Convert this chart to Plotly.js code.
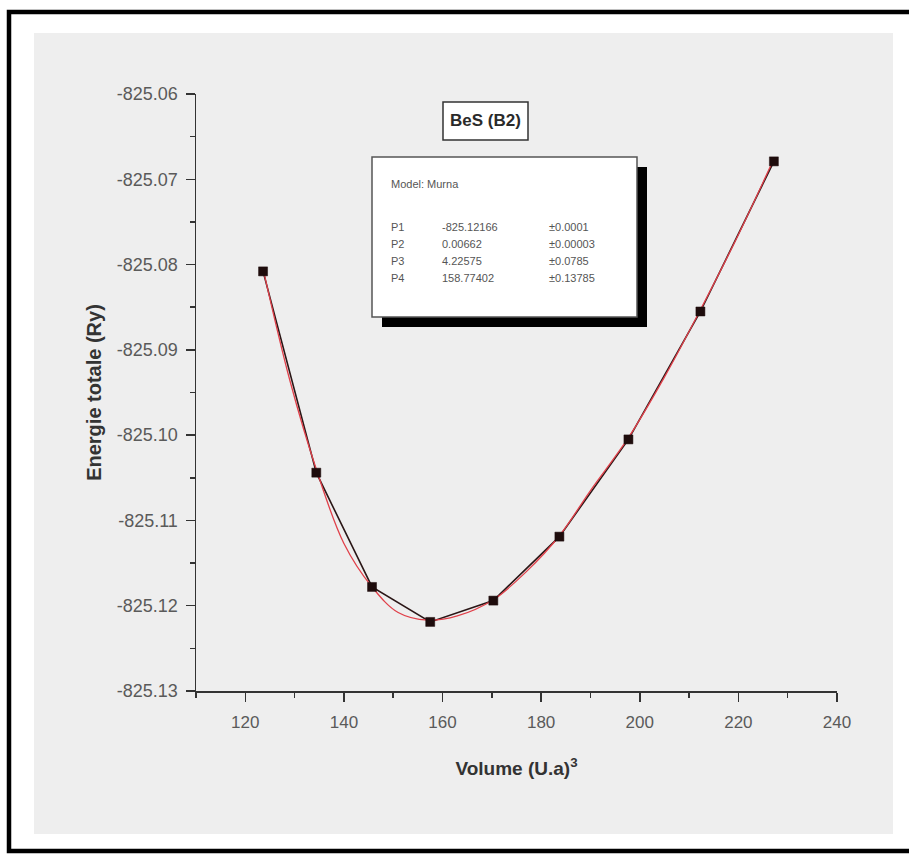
<!DOCTYPE html>
<html>
<head>
<meta charset="utf-8">
<script src="https://cdn.plot.ly/plotly-3.0.1.min.js"></script>
<style>
  html, body { margin: 0; padding: 0; background: #ffffff; }
  #chart { width: 909px; height: 857px; }
</style>
</head>
<body>
<div id="chart"></div>
<script>
// Calculated total energy of BeS (B2 phase) versus cell volume
const volume = [123.6, 134.4, 145.7, 157.5, 170.3, 183.7, 197.7, 212.3, 227.2];
const energy = [-825.0808, -825.1044, -825.1178, -825.1219, -825.1194, -825.1119, -825.1005, -825.0855, -825.0679];

// Murnaghan fit curve
const fitVolume = [123.6, 129.0, 134.4, 140.0, 145.7, 151.0, 157.0, 163.0, 170.3, 177.0, 183.7, 190.0, 197.7, 205.0, 212.3, 220.0, 227.2];
const fitEnergy = [-825.0805, -825.0935, -825.1040, -825.1127, -825.1178, -825.1208, -825.1217, -825.1212, -825.1193, -825.1160, -825.1118, -825.1065, -825.1003, -825.0932, -825.0853, -825.0765, -825.0676];

// Axis ticks
const xTickVals = [120, 140, 160, 180, 200, 220, 240];
const xTickText = ['120', '140', '160', '180', '200', '220', '240'];
const yTickVals = [-825.13, -825.12, -825.11, -825.10, -825.09, -825.08, -825.07, -825.06];
const yTickText = ['-825.13', '-825.12', '-825.11', '-825.10', '-825.09', '-825.08', '-825.07', '-825.06'];

// Fit parameters
const fitModel = 'Model: Murna';
const paramNames = ['P1', 'P2', 'P3', 'P4'];
const paramValues = ['-825.12166', '0.00662', '4.22575', '158.77402'];
const paramErrors = ['\u00b10.0001', '\u00b10.00003', '\u00b10.0785', '\u00b10.13785'];
const chartLabel = 'BeS (B2)';

const W = 909, H = 857;
const M = { l: 196, r: 72, t: 94, b: 166 };
const PW = W - M.l - M.r, PH = H - M.t - M.b;
// pixel -> paper coordinates
const px = x => (x - M.l) / PW;
const py = y => (H - M.b - y) / PH;

const FONT = 'Liberation Sans, Arial, sans-serif';

const traces = [
  {
    x: volume, y: energy, type: 'scatter', mode: 'lines',
    line: { color: '#2a1616', width: 1.6 }, hoverinfo: 'skip'
  },
  {
    x: fitVolume, y: fitEnergy, type: 'scatter', mode: 'lines',
    line: { color: '#e0404a', width: 1.3, shape: 'spline', smoothing: 1 }
  },
  {
    x: volume, y: energy, type: 'scatter', mode: 'markers',
    marker: { symbol: 'square', size: 9, color: '#1e0c0c', line: { color: '#1e0c0c', width: 0.5 } }
  }
];

const shapes = [
  // outer frame
  { type: 'rect', xref: 'paper', yref: 'paper', layer: 'below',
    x0: px(9), x1: px(918), y0: py(12), y1: py(851),
    line: { color: '#000000', width: 4.5 }, fillcolor: '#ffffff' },
  // grey panel
  { type: 'rect', xref: 'paper', yref: 'paper', layer: 'below',
    x0: px(34), x1: px(893), y0: py(33), y1: py(834),
    line: { width: 0 }, fillcolor: '#eeeeee' },
  // parameter box shadow
  { type: 'rect', xref: 'paper', yref: 'paper', layer: 'above',
    x0: px(382), x1: px(647), y0: py(167), y1: py(327),
    line: { width: 0 }, fillcolor: '#000000' },
  // parameter box
  { type: 'rect', xref: 'paper', yref: 'paper', layer: 'above',
    x0: px(372), x1: px(637), y0: py(157), y1: py(317),
    line: { color: '#555555', width: 1.5 }, fillcolor: '#ffffff' },
  // label box
  { type: 'rect', xref: 'paper', yref: 'paper', layer: 'above',
    x0: px(443), x1: px(528), y0: py(102), y1: py(140),
    line: { color: '#333333', width: 1.5 }, fillcolor: '#ffffff' }
];

const small = { family: FONT, size: 11, color: '#555555' };
const annotations = [
  { xref: 'paper', yref: 'paper', x: px(485.5), y: py(121), text: '<b>' + chartLabel + '</b>',
    showarrow: false, xanchor: 'center', yanchor: 'middle',
    font: { family: FONT, size: 17, color: '#2a2a2a' } },
  { xref: 'paper', yref: 'paper', x: px(389), y: py(184), text: fitModel,
    showarrow: false, xanchor: 'left', yanchor: 'middle', font: small }
];
const rowY = [227, 244, 261, 278];
paramNames.forEach((name, i) => {
  annotations.push({ xref: 'paper', yref: 'paper', x: px(389), y: py(rowY[i]), text: name,
    showarrow: false, xanchor: 'left', yanchor: 'middle', font: small });
  annotations.push({ xref: 'paper', yref: 'paper', x: px(440), y: py(rowY[i]), text: paramValues[i],
    showarrow: false, xanchor: 'left', yanchor: 'middle', font: small });
  annotations.push({ xref: 'paper', yref: 'paper', x: px(547), y: py(rowY[i]), text: paramErrors[i],
    showarrow: false, xanchor: 'left', yanchor: 'middle', font: small });
});

const layout = {
  width: W, height: H,
  margin: M,
  paper_bgcolor: '#ffffff',
  plot_bgcolor: 'rgba(0,0,0,0)',
  showlegend: false,
  font: { family: FONT },
  xaxis: {
    range: [110, 240],
    tickmode: 'array', tickvals: xTickVals, ticktext: xTickText,
    ticks: 'outside', ticklen: 9, tickwidth: 1.5, tickcolor: '#333333',
    minor: { tickmode: 'linear', tick0: 110, dtick: 10, ticks: 'outside', ticklen: 5, tickwidth: 1.5, tickcolor: '#333333' },
    showline: true, linecolor: '#333333', linewidth: 1.5,
    showgrid: false, zeroline: false,
    tickfont: { family: FONT, size: 17, color: '#5a5a5a' },
    ticklabelstandoff: 6,
    title: { text: 'Volume (U.a)<sup>3</sup>', standoff: 31,
      font: { family: FONT, size: 19, color: '#333333', weight: 'bold' } }
  },
  yaxis: {
    range: [-825.13, -825.06],
    tickmode: 'array', tickvals: yTickVals, ticktext: yTickText,
    ticks: 'outside', ticklen: 9, tickwidth: 1.5, tickcolor: '#333333',
    minor: { tickmode: 'linear', tick0: -825.13, dtick: 0.005, ticks: 'outside', ticklen: 5, tickwidth: 1.5, tickcolor: '#333333' },
    showline: true, linecolor: '#333333', linewidth: 1.5,
    showgrid: false, zeroline: false,
    tickfont: { family: FONT, size: 18, color: '#5a5a5a' },
    ticklabelstandoff: 4,
    title: { text: 'Energie totale (Ry)', standoff: 10,
      font: { family: FONT, size: 20, color: '#333333', weight: 'bold' } }
  },
  shapes: shapes,
  annotations: annotations
};

Plotly.newPlot('chart', traces, layout, { displayModeBar: false, staticPlot: true });
</script>
</body>
</html>
